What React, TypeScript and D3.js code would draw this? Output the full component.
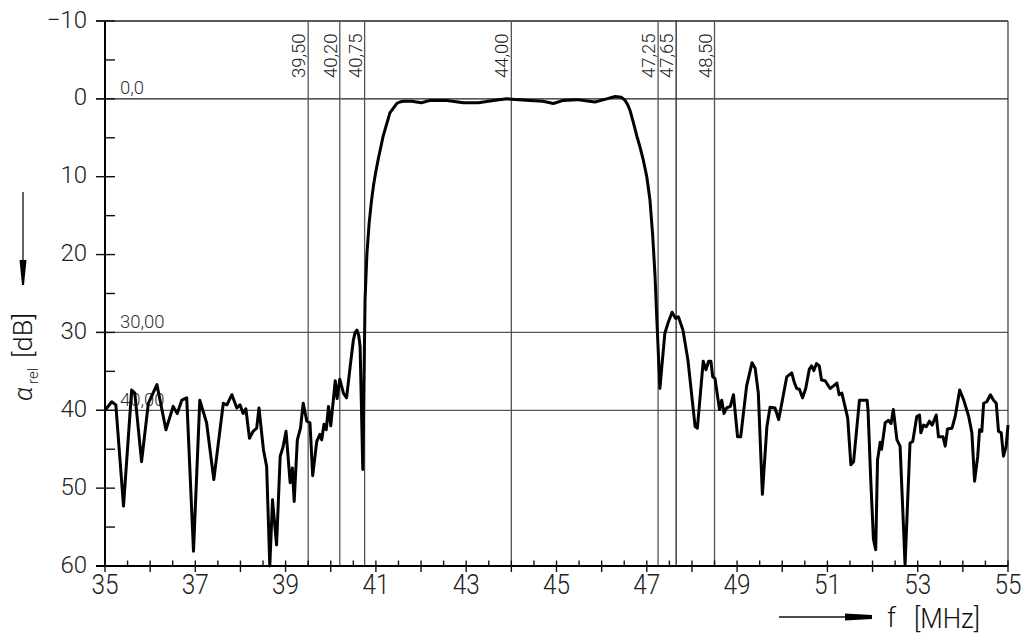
import React from "react";
import * as d3 from "d3";

// frequency response (MHz / dB attenuation)
const lowerStopFreq = [35.00, 35.15, 35.24, 35.41, 35.59, 35.66, 35.81, 35.96, 36.15, 36.35, 36.51, 36.60, 36.70, 36.81, 36.96, 37.10, 37.25, 37.41, 37.62, 37.70, 37.81, 37.92, 37.99, 38.06, 38.12, 38.20, 38.28, 38.36, 38.41, 38.51, 38.58, 38.65, 38.71, 38.80, 38.88, 38.94, 39.01, 39.10, 39.15, 39.19, 39.26, 39.33, 39.39, 39.47, 39.54, 39.60, 39.69, 39.76, 39.80, 39.85, 39.90, 39.95, 40.00, 40.10, 40.14, 40.20, 40.28, 40.35, 40.43, 40.50, 40.54, 40.58, 40.62, 40.65, 40.71];
const lowerStopDb = [40.0, 38.9, 39.3, 52.3, 37.4, 37.8, 46.6, 39.1, 36.7, 42.5, 39.5, 40.4, 38.7, 38.4, 58.1, 38.7, 41.6, 48.9, 39.1, 39.3, 38.0, 39.7, 39.3, 40.4, 39.8, 43.6, 42.7, 42.3, 39.7, 45.1, 47.2, 60.0, 51.5, 57.3, 45.9, 44.8, 42.7, 49.3, 47.4, 51.7, 43.8, 42.3, 39.1, 41.4, 41.6, 48.4, 44.0, 43.1, 43.8, 41.8, 42.5, 39.5, 42.0, 36.2, 38.5, 36.0, 37.8, 38.4, 34.4, 31.0, 30.0, 29.7, 30.4, 31.8, 47.6];

const passFreq = [40.76, 40.80, 40.85, 40.90, 40.95, 41.00, 41.05, 41.16, 41.31, 41.46, 41.53, 41.61, 41.79, 42.01, 42.20, 42.57, 42.94, 43.27, 43.60, 43.90, 44.41, 44.70, 44.93, 45.15, 45.45, 45.85, 46.11, 46.30, 46.44, 46.52, 46.58, 46.63, 46.70, 46.78, 46.85, 46.92, 47.00, 47.07, 47.13, 47.18, 47.22];
const passDb = [25.8, 20.0, 16.0, 13.2, 11.0, 9.3, 7.8, 4.8, 1.8, 0.6, 0.4, 0.3, 0.3, 0.5, 0.2, 0.2, 0.5, 0.5, 0.2, 0.0, 0.2, 0.3, 0.6, 0.2, 0.1, 0.4, 0.0, -0.3, -0.2, 0.2, 0.8, 1.5, 3.0, 4.8, 6.2, 7.8, 10.0, 13.0, 17.5, 22.5, 28.0];

const upperStopFreq = [47.29, 47.40, 47.47, 47.56, 47.64, 47.70, 47.80, 47.91, 48.07, 48.12, 48.25, 48.31, 48.37, 48.42, 48.46, 48.51, 48.61, 48.66, 48.71, 48.77, 48.85, 48.92, 49.01, 49.08, 49.21, 49.33, 49.40, 49.47, 49.56, 49.66, 49.73, 49.84, 49.92, 49.99, 50.10, 50.21, 50.26, 50.32, 50.38, 50.45, 50.52, 50.60, 50.65, 50.70, 50.76, 50.82, 50.87, 50.95, 51.06, 51.13, 51.21, 51.26, 51.32, 51.39, 51.45, 51.52, 51.58, 51.71, 51.88, 51.90, 51.96, 52.02, 52.07, 52.11, 52.17, 52.20, 52.28, 52.35, 52.41, 52.46, 52.54, 52.61, 52.72, 52.83, 52.89, 52.98, 53.04, 53.07, 53.13, 53.19, 53.26, 53.32, 53.41, 53.46, 53.56, 53.61, 53.66, 53.76, 53.83, 53.93, 54.02, 54.13, 54.20, 54.26, 54.33, 54.37, 54.42, 54.46, 54.53, 54.61, 54.68, 54.74, 54.79, 54.85, 54.90, 54.96, 55.00];
const upperStopDb = [37.2, 30.1, 28.8, 27.4, 28.2, 28.0, 29.7, 33.5, 42.1, 42.3, 33.7, 34.8, 33.7, 33.7, 35.7, 35.9, 39.9, 38.7, 40.4, 39.7, 39.5, 38.0, 43.4, 43.4, 36.9, 33.9, 34.6, 37.8, 50.8, 42.1, 39.6, 39.7, 41.2, 39.1, 35.7, 35.2, 36.3, 37.2, 37.3, 38.4, 37.2, 34.7, 34.3, 34.9, 34.0, 34.3, 36.1, 36.2, 37.2, 36.9, 36.5, 38.0, 37.8, 39.5, 41.0, 47.0, 46.6, 38.7, 38.7, 40.0, 48.9, 56.6, 57.9, 46.4, 44.1, 45.0, 41.6, 41.3, 41.7, 39.9, 43.8, 44.6, 59.8, 44.2, 44.0, 40.8, 40.6, 42.9, 41.9, 42.1, 41.4, 41.9, 40.6, 43.4, 43.4, 44.6, 42.4, 42.3, 40.8, 37.4, 38.7, 40.8, 42.9, 49.1, 45.9, 42.5, 42.7, 39.1, 38.9, 38.0, 38.7, 39.1, 42.7, 42.9, 45.9, 44.6, 41.9];

// marker lines
const markerFreqs = [39.5, 40.2, 40.75, 44.0, 47.25, 47.65, 48.5];
const markerLabels = ["39,50", "40,20", "40,75", "44,00", "47,25", "47,65", "48,50"];
const levelDb = [0, 30, 40];
const levelLabels = ["0,0", "30,00", "40,00"];

// axis ticks
const xTickLabels = ["35", "37", "39", "41", "43", "45", "47", "49", "51", "53", "55"];
const yTickLabels = ["\u221210", "0", "10", "20", "30", "40", "50", "60"];

const FONT = "Roboto, 'DejaVu Sans', sans-serif";

export default function App() {
  const width = 1027;
  const height = 635;

  const x = d3.scaleLinear().domain([35, 55]).range([105, 1008]);
  const y = d3.scaleLinear().domain([-10, 60]).range([21, 566]);

  const freq = [...lowerStopFreq, ...passFreq, ...upperStopFreq];
  const db = [...lowerStopDb, ...passDb, ...upperStopDb];
  const pts: [number, number][] = freq.map((f, i) => [f, db[i]]);

  const line = d3
    .line<[number, number]>()
    .x(d => x(d[0]))
    .y(d => y(d[1]))
    .curve(d3.curveLinear);

  const xTicks = d3.range(35, 55.001, 0.5);
  const yTicks = d3.range(-10, 60.001, 5);

  return (
    <svg
      width={width}
      height={height}
      style={{ position: "absolute", left: 0, top: 0, background: "#fff" }}
      fontFamily={FONT}
    >
      {/* horizontal level lines */}
      <line x1={96} x2={x(55)} y1={y(-10)} y2={y(-10)} stroke="#222" strokeWidth={1.4} />
      {levelDb.map((v, i) => (
        <g key={"lvl" + i}>
          <line x1={96} x2={x(55)} y1={y(v)} y2={y(v)} stroke={v === 0 ? "#222" : "#555"} strokeWidth={1.3} />
          <text x={120} y={y(v) - 4.5} fontSize={18.5} fontWeight={300} fill="#333">
            {levelLabels[i]}
          </text>
        </g>
      ))}

      {/* vertical marker lines */}
      {markerFreqs.map((f, i) => (
        <g key={"mk" + i}>
          <line x1={x(f)} x2={x(f)} y1={y(-10)} y2={y(60)} stroke={i === 5 ? "#222" : "#555"} strokeWidth={1.3} />
          <text
            transform={`translate(${x(f) - 3},78) rotate(-90)`}
            fontSize={18.5}
            fontWeight={300}
            fill="#222"
          >
            {markerLabels[i]}
          </text>
        </g>
      ))}

      {/* right border */}
      <line x1={x(55)} x2={x(55)} y1={y(-10)} y2={y(60)} stroke="#333" strokeWidth={1.2} />

      {/* y axis */}
      <line x1={x(35)} x2={x(35)} y1={y(-10)} y2={y(60)} stroke="#000" strokeWidth={2} />
      {yTicks.map(t => {
        const major = Math.round(t) % 10 === 0;
        return (
          <line
            key={"yt" + t}
            x1={major ? 96 : 105}
            x2={115}
            y1={y(t)}
            y2={y(t)}
            stroke="#111"
            strokeWidth={1.4}
          />
        );
      })}
      {yTickLabels.map((lab, i) => (
        <text
          key={"yl" + i}
          x={87}
          y={y(-10 + i * 10) + 6.5}
          textAnchor="end"
          fontSize={24}
          fontWeight={300}
          fill="#222"
        >
          {lab}
        </text>
      ))}

      {/* x axis */}
      <line x1={96} x2={x(55)} y1={y(60)} y2={y(60)} stroke="#000" strokeWidth={2} />
      {xTicks.map(t => {
        const major = Math.abs(t - Math.round(t)) < 1e-6;
        return (
          <line
            key={"xt" + t}
            x1={x(t)}
            x2={x(t)}
            y1={y(60) - 5.5}
            y2={major ? y(60) + 6 : y(60)}
            stroke="#111"
            strokeWidth={1.4}
          />
        );
      })}
      {xTickLabels.map((lab, i) => (
        <text
          key={"xl" + i}
          x={x(35 + i * 2)}
          y={594}
          textAnchor="middle"
          fontSize={27}
          fontWeight={300}
          fill="#222"
          textLength={27}
          lengthAdjust="spacingAndGlyphs"
        >
          {lab}
        </text>
      ))}

      {/* response curve */}
      <path d={line(pts) || ""} fill="none" stroke="#000" strokeWidth={3} strokeLinejoin="round" />

      {/* y axis title with arrow */}
      <line x1={23} x2={23} y1={192} y2={262} stroke="#111" strokeWidth={1.3} />
      <path d="M19.5,260 L26.5,260 L24,285 L22,285 Z" fill="#000" />
      <text transform="translate(32,401) rotate(-90)" fontSize={26} fontWeight={300} fill="#111" fontStyle="italic">
        α
      </text>
      <text transform="translate(38,384) rotate(-90)" fontSize={15} fontWeight={300} fill="#111">
        rel
      </text>
      <text
        transform="translate(32,358) rotate(-90)"
        fontSize={26}
        fontWeight={300}
        fill="#111"
        textLength={45}
        lengthAdjust="spacingAndGlyphs"
      >
        [dB]
      </text>

      {/* x axis title with arrow */}
      <line x1={779} x2={848} y1={617} y2={617} stroke="#111" strokeWidth={1.3} />
      <path d="M845,613.5 L872,615 L872,619 L845,620.5 Z" fill="#000" />
      <text x={887} y={627} fontSize={27} fontWeight={300} fill="#111">
        f
      </text>
      <text
        x={914}
        y={628}
        fontSize={28}
        fontWeight={300}
        fill="#111"
        textLength={66}
        lengthAdjust="spacingAndGlyphs"
      >
        [MHz]
      </text>
    </svg>
  );
}
